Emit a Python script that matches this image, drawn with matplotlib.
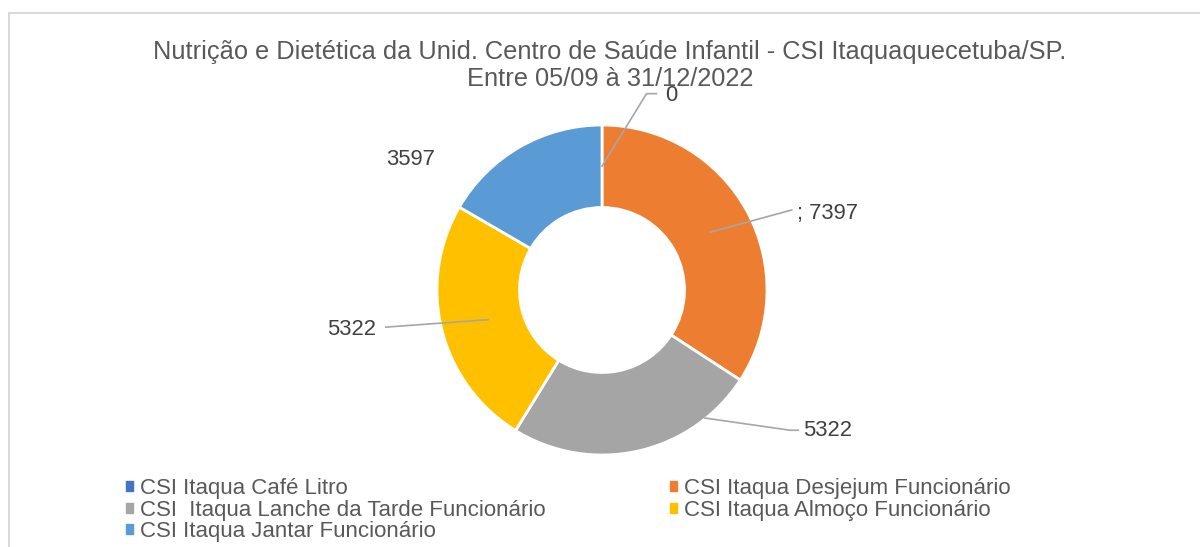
import matplotlib
matplotlib.use("Agg")
import matplotlib.pyplot as plt
import numpy as np

plt.rcParams['font.family'] = ['Liberation Sans', 'DejaVu Sans']

categories = ["CSI Itaqua Café Litro",
              "CSI Itaqua Desjejum Funcionário",
              "CSI  Itaqua Lanche da Tarde Funcionário",
              "CSI Itaqua Almoço Funcionário",
              "CSI Itaqua Jantar Funcionário"]
values = [0, 7397, 5322, 5322, 3597]
label_texts = ["0", "; 7397", "5322", "5322", "3597"]
colors = ["#4472C4", "#ED7D31", "#A5A5A5", "#FFC000", "#5B9BD5"]

title = ("Nutrição e Dietética da Unid. Centro de Saúde Infantil - CSI Itaquaquecetuba/SP.\n"
         "Entre 05/09 à 31/12/2022")

W, H = 1200, 547
fig = plt.figure(figsize=(W / 100, H / 100), dpi=100)

# chart frame (light grey, extends beyond picture on right/bottom)
fig.add_artist(plt.Line2D([9 / W, 9 / W], [0, 1 - 13 / H], color="#D9D9D9", lw=1.5, transform=fig.transFigure))
fig.add_artist(plt.Line2D([9 / W, 1], [1 - 13 / H, 1 - 13 / H], color="#D9D9D9", lw=1.5, transform=fig.transFigure))

cx, cy, R = 602, 290, 165
ax = fig.add_axes([(cx - R) / W, (H - cy - R) / H, 2 * R / W, 2 * R / H])
wedges, _ = ax.pie(values, colors=colors, startangle=90, counterclock=False,
                   wedgeprops=dict(width=0.5, edgecolor="white", linewidth=2))
ax.set_xlim(-1, 1)
ax.set_ylim(-1, 1)
ax.set_aspect("equal")
ax.axis("off")

fig.text(610 / W, 1 - 65.5 / H, title, ha="center", va="center", fontsize=18.3,
         color="#595959", linespacing=1.2)

# data labels: (anchor xy, text xy, ha, leader?)
label_layout = [
    ((0.0, 0.75), (0.42, 1.18), "center", [(0.27, 1.19)]),
    ((0.655, 0.35), (1.18, 0.465), "left", []),
    ((0.624, -0.776), (1.22, -0.85), "left", [(1.17, -0.85)]),
    ((-0.69, -0.18), (-1.37, -0.24), "right", [(-1.31, -0.225)]),
    (None, (-1.16, 0.79), "center", []),
]
for txt, (anc, tpos, ha, mids) in zip(label_texts, label_layout):
    ax.text(tpos[0], tpos[1], txt, ha=ha, va="center", fontsize=15.8,
            color="#404040", clip_on=False)
    if anc is not None:
        if ha == "left":
            end = (tpos[0] - 0.03, tpos[1] + 0.02)
        elif ha == "right":
            end = (tpos[0] + 0.06, tpos[1] + 0.015)
        else:
            end = (tpos[0] - 0.09, tpos[1] + 0.01)
        pts = [anc] + mids + [end]
        if ha == "left" and mids:
            pts = [anc, (tpos[0] - 0.08, tpos[1]), (tpos[0] - 0.03, tpos[1])]
        xs, ys = zip(*pts)
        ax.plot(xs, ys, color="#A6A6A6", lw=1.2, clip_on=False)

order = [0, 2, 4, 1, 3]
handles = [plt.Rectangle((0, 0), 1, 1, color=colors[i]) for i in order]
labels = [categories[i] for i in order]
leg = fig.legend(handles, labels, ncol=2, loc="upper left",
                 bbox_to_anchor=(126 / W, 1 - 478 / H), frameon=False,
                 fontsize=16, handlelength=0.33, handleheight=0.33,
                 handletextpad=0.3, labelspacing=0.03, columnspacing=5.6,
                 borderpad=0, borderaxespad=0)
for t in leg.get_texts():
    t.set_color("#595959")

fig.savefig("out.png", dpi=100)
